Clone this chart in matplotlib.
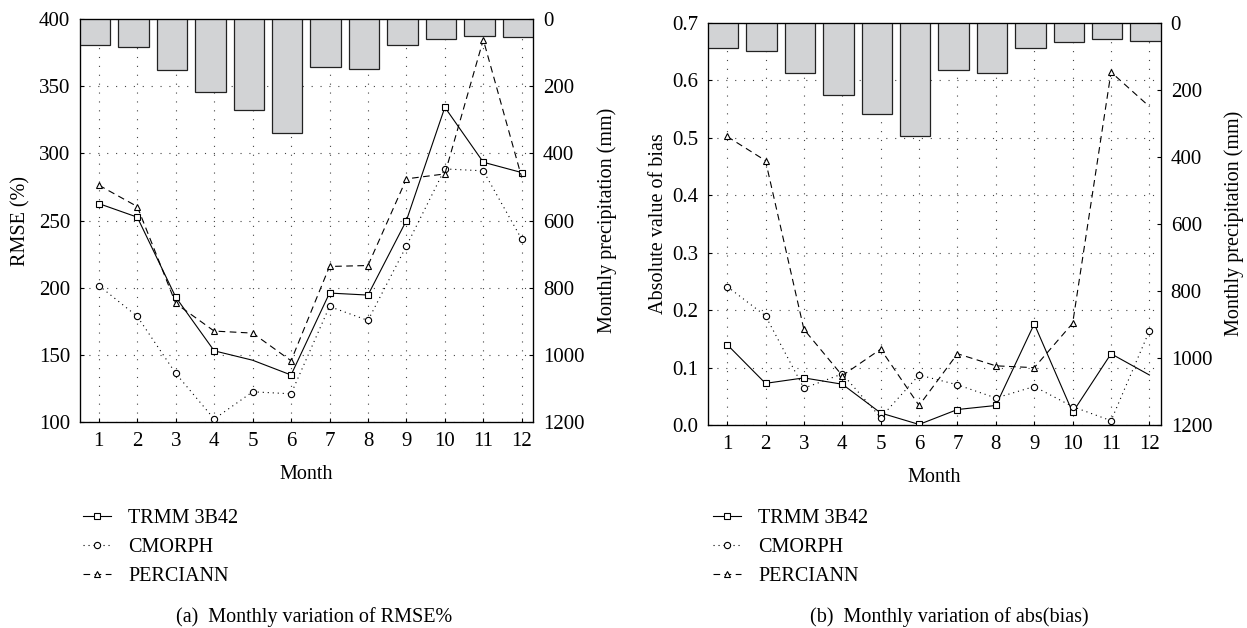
import matplotlib
matplotlib.use("Agg")
import matplotlib.pyplot as plt
from matplotlib.lines import Line2D

plt.rcParams["font.family"] = ["Liberation Serif", "DejaVu Serif"]

months = [1, 2, 3, 4, 5, 6, 7, 8, 9, 10, 11, 12]
precip_mm = [76, 83, 151, 216, 272, 338, 142, 150, 76, 59, 50, 54]

# panel (a): RMSE %
rmse_trmm = [262.6, 252.5, 193, 153, 146, 135, 196, 194.5, 250, 334.3, 293.4, 285.7]
rmse_cmorph = [201.6, 178.6, 136.2, 102.2, 122.5, 121, 186, 175.6, 231, 288.4, 287, 236]
rmse_perciann = [276.3, 260.4, 188.3, 167.7, 166.2, 145.6, 215.8, 216.5, 281, 284.7, 384.6, 282]

# panel (b): absolute value of bias
bias_trmm = [0.140, 0.0725, 0.082, 0.071, 0.021, 0.001, 0.027, 0.034, 0.176, 0.022, 0.124, 0.087]
bias_cmorph = [0.241, 0.190, 0.064, 0.089, 0.013, 0.087, 0.070, 0.047, 0.067, 0.032, 0.0075, 0.164]
bias_perciann = [0.502, 0.460, 0.1665, 0.086, 0.132, 0.034, 0.124, 0.103, 0.0998, 0.177, 0.614, 0.554]

series_names = ["TRMM 3B42", "CMORPH", "PERCIANN"]

FS = 14.5
TICK_FS = 15
BAR_GRAY = "#d2d3d5"
styles = [
    dict(linestyle="-", marker="s"),
    dict(linestyle=(0, (1, 3.5)), marker="o"),
    dict(linestyle=(0, (6, 4)), marker="^"),
]


def draw_panel(ax, values, marks, ylim, yticks, yfmt, ylabel, ylabelpad):
    ax.set_xlim(0.51, 12.3)
    ax.set_ylim(*ylim)
    ax.set_yticks(yticks)
    ax.set_yticklabels([yfmt.format(v) for v in yticks])
    ax.set_xticks(months)
    ax.grid(True, color="#444444", linestyle=(0, (1, 7)), linewidth=0.8)
    ax.tick_params(direction="in", length=3, width=0.8, labelsize=TICK_FS, pad=7)
    ax.set_xlabel("Month", fontsize=FS, labelpad=10)
    ax.set_ylabel(ylabel, fontsize=FS, labelpad=ylabelpad)
    for s in ax.spines.values():
        s.set_linewidth(0.9)

    axp = ax.twinx()
    axp.bar([m - 0.1 for m in months], precip_mm, width=0.79,
            color=BAR_GRAY, edgecolor="#222222", linewidth=0.9)
    for vals, st, mk in zip(values, styles, marks):
        axp.plot(months, vals, transform=ax.transData, color="black",
                 linewidth=0.8, markersize=4.5, markerfacecolor="white",
                 markeredgecolor="black", markeredgewidth=0.8,
                 markevery=mk, **st)
    axp.set_ylim(1200, 0)
    axp.set_yticks([0, 200, 400, 600, 800, 1000, 1200])
    axp.set_xlim(0.51, 12.3)
    axp.tick_params(direction="in", length=3, width=0.8, labelsize=TICK_FS, pad=7)
    axp.set_ylabel("Monthly precipitation (mm)", fontsize=FS, labelpad=9)
    return axp


def add_legend(fig, x, y):
    handles = [Line2D([], [], color="black", linewidth=0.8, markersize=4.5,
                      markerfacecolor="white", markeredgecolor="black",
                      markeredgewidth=0.8, **st) for st in styles]
    fig.legend(handles, series_names, loc="upper left",
               bbox_to_anchor=(x, y), frameon=False, fontsize=FS,
               handlelength=1.4, handletextpad=0.85, labelspacing=0.5,
               borderpad=0, borderaxespad=0)


fig = plt.figure(figsize=(12.47, 6.28), dpi=100)
ax_a = fig.add_axes([0.06415, 0.328, 0.3635, 0.6417])
ax_b = fig.add_axes([0.568, 0.3232, 0.363, 0.6407])

all_idx = list(range(12))
marks_a = [[i for i in all_idx if i != 4], all_idx, all_idx[:11]]
marks_b = [all_idx[:11], all_idx, all_idx[:11]]

draw_panel(ax_a, [rmse_trmm, rmse_cmorph, rmse_perciann], marks_a,
           (100, 400), [100, 150, 200, 250, 300, 350, 400], "{:.0f}",
           "RMSE (%)", 6)
draw_panel(ax_b, [bias_trmm, bias_cmorph, bias_perciann], marks_b,
           (0, 0.7), [0, 0.1, 0.2, 0.3, 0.4, 0.5, 0.6, 0.7], "{:.1f}",
           "Absolute value of bias", 3)

add_legend(fig, 83 / 1247, 1 - 509 / 628)
add_legend(fig, 713 / 1247, 1 - 509 / 628)

fig.text(314 / 1247, 1 - 617 / 628, "(a)  Monthly variation of RMSE%",
         ha="center", va="center", fontsize=FS)
fig.text(949 / 1247, 1 - 617 / 628, "(b)  Monthly variation of abs(bias)",
         ha="center", va="center", fontsize=FS)

fig.savefig("out.png", dpi=100)
